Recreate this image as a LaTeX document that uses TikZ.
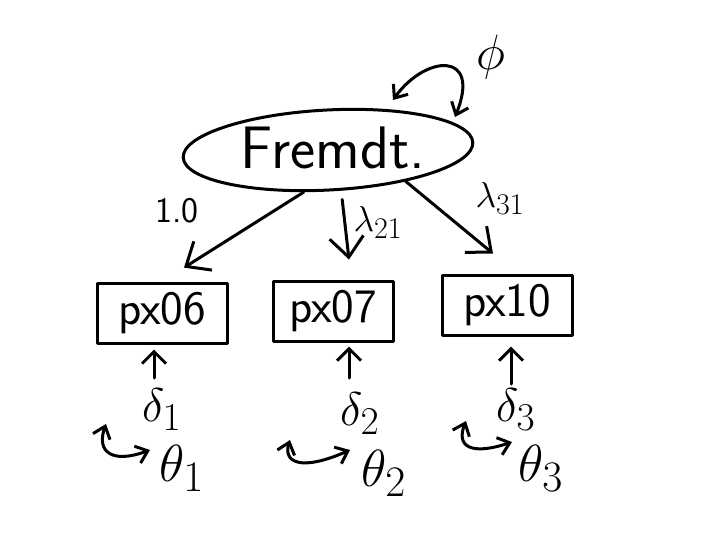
\documentclass[tikz,border=0pt]{standalone}
\usepackage{fontspec}
\usetikzlibrary{shapes.geometric,arrows.meta}
\newcommand\gkl[2]{\scalebox{#1}{\fontsize{24.88}{28}\selectfont$#2$}}
\begin{document}
\begin{tikzpicture}[x=1pt,y=-1pt,
  pen/.style={line width=3pt, line cap=round, line join=round},
  arr/.style={pen, -{Straight Barb[length=20pt,width=34pt]}},
  sarr/.style={pen, -{Straight Barb[length=12pt,width=24pt]}},
  darr/.style={pen, {Straight Barb[length=11pt,width=18pt]}-{Straight Barb[length=11pt,width=18pt]}},
  obs/.style={draw, pen, minimum width=130pt, minimum height=60pt, inner sep=0pt, font=\sffamily\fontsize{48}{52}\selectfont\addfontfeatures{LetterSpace=8}},
  lat/.style={ellipse, draw, pen, minimum width=290pt, minimum height=80pt, inner sep=0pt},
  lbl/.style={inner sep=0pt},
]
\useasboundingbox (0,0) rectangle (726,544);
% latent variable
\node[lat, rotate=3] (F) at (328,150) {};
\node[inner sep=0pt, font=\sffamily\fontsize{60}{66}\selectfont] (Ft) at (333,148) {Fremdt.};
% observed
\node[obs] (B1) at (162,313) {px06};
\node[obs, minimum width=120pt] (B2) at (333,311) {px07};
\node[obs] (B3) at (507,305) {px10};
% loadings
\draw[arr, shorten >=26pt] (F.237) -- (B1.north);
\draw[arr] ([shift={(12,8)}]F.south) -- ([shift={(16,-20)}]B2.north);
\draw[arr] (F.-25) -- ([shift={(-14,-20)}]B3.north);
\node[lbl, font=\sffamily\fontsize{36}{40}\selectfont] (L1) at (177,211) {1.0};
\node[lbl] (L2) at (378,222) {\gkl{1.45}{\lambda_{21}}};
\node[lbl] (L3) at (500,198) {\gkl{1.45}{\lambda_{31}}};
% factor variance
\coordinate (p1) at (393,100);
\coordinate (p2) at (455,117);
\draw[darr] (p1) .. controls (425,55) and (482,50) .. (p2);
\node[lbl] (P) at (491,57) {\gkl{2}{\phi}};
% errors
\node[lbl] (D1) at (162,410) {\gkl{1.9}{\delta_1}};
\node[lbl] (D2) at (360,414) {\gkl{1.9}{\delta_2}};
\node[lbl] (D3) at (516,410) {\gkl{1.9}{\delta_3}};
\coordinate (a1) at (154,378);
\coordinate (a2) at (349,378);
\coordinate (a3) at (511,384);
\draw[sarr, shorten >=5pt] (a1) -- (a1 |- B1.south);
\draw[sarr, shorten >=4pt] (a2) -- (a2 |- B2.south);
\draw[sarr, shorten >=10pt] (a3) -- (a3 |- B3.south);
\node[lbl] (T1) at (182,468) {\gkl{2.1}{\theta_1}};
\node[lbl] (T2) at (384,473) {\gkl{2.1}{\theta_2}};
\node[lbl] (T3) at (541,468) {\gkl{2.1}{\theta_3}};
% error variances
\coordinate (v1a) at (106,424);
\coordinate (v1b) at (150,450);
\coordinate (v2a) at (290,440);
\coordinate (v2b) at (350,450);
\coordinate (v3a) at (466,421);
\coordinate (v3b) at (512,442);
\draw[darr] (v1a) .. controls (96,452) and (112,464) .. (v1b);
\draw[darr] (v2a) .. controls (283,462) and (300,472) .. (v2b);
\draw[darr] (v3a) .. controls (456,446) and (470,456) .. (v3b);
\end{tikzpicture}
\end{document}
